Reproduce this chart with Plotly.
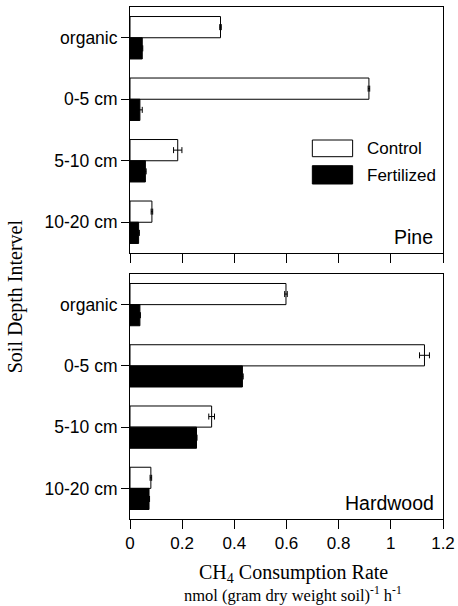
import plotly.graph_objects as go

depths = ["organic", "0-5 cm", "5-10 cm", "10-20 cm"]
pine_control = [0.347, 0.916, 0.183, 0.084]
pine_control_err = [0.003, 0.003, 0.016, 0.003]
pine_fert = [0.047, 0.038, 0.059, 0.033]
pine_fert_err = [0.002, 0.009, 0.003, 0.003]
hard_control = [0.598, 1.129, 0.313, 0.080]
hard_control_err = [0.005, 0.019, 0.011, 0.003]
hard_fert = [0.038, 0.431, 0.255, 0.073]
hard_fert_err = [0.002, 0.003, 0.002, 0.002]
x_ticks = [0, 0.2, 0.4, 0.6, 0.8, 1, 1.2]
x_tick_labels = ["0", "0.2", "0.4", "0.6", "0.8", "1", "1.2"]

W, H = 458, 606
# screen-pixel positions of the plot area
SL, SR, ST, SB = 129.5, 443.3, 7, 519
L, T = SL, ST
R = W - SR
B = H - SB
PW = SR - SL
PH = SB - ST


def px(x):
    return (x - SL) / PW


def py(y):
    return (SB - y) / PH


SANS = "Liberation Sans, Arial, sans-serif"
SERIF = "Liberation Serif, Times New Roman, serif"

fig = go.Figure()


def add_pair(ctrl, ctrl_err, fert, fert_err, xa, ya):
    fig.add_trace(go.Bar(
        y=depths, x=ctrl, orientation="h", name="Control",
        marker=dict(color="white", line=dict(color="black", width=1)),
        error_x=dict(type="data", array=ctrl_err, color="black", thickness=1, width=3),
        xaxis=xa, yaxis=ya, showlegend=False))
    fig.add_trace(go.Bar(
        y=depths, x=fert, orientation="h", name="Fertilized",
        marker=dict(color="black", line=dict(color="black", width=1)),
        error_x=dict(type="data", array=fert_err, color="black", thickness=1, width=3),
        xaxis=xa, yaxis=ya, showlegend=False))


add_pair(pine_control, pine_control_err, pine_fert, pine_fert_err, "x2", "y2")
add_pair(hard_control, hard_control_err, hard_fert, hard_fert_err, "x", "y")

top_dom = [1 - 246 / PH, 1]
bot_dom = [0, 245 / PH]

axis_common = dict(showline=True, linecolor="black", linewidth=1, mirror=True,
                   showgrid=False, zeroline=False, ticks="outside", ticklen=9,
                   tickcolor="black", tickwidth=1, automargin=False)

fig.update_layout(
    width=W, height=H,
    margin=dict(l=L, r=R, t=T, b=B, autoexpand=False),
    paper_bgcolor="white", plot_bgcolor="white",
    barmode="group", bargap=0.31, bargroupgap=0,
    font=dict(family=SANS, size=17, color="black"),
    xaxis=dict(range=[0, 1.2], tickvals=x_ticks, ticktext=x_tick_labels,
               anchor="y", domain=[0, 1], tickfont=dict(size=17), **axis_common),
    xaxis2=dict(range=[0, 1.2], tickvals=x_ticks, showticklabels=False,
                anchor="y2", domain=[0, 1], **axis_common),
    yaxis=dict(domain=bot_dom, autorange="reversed", anchor="x",
               tickfont=dict(size=17.5), **{**axis_common, "ticklen": 8}),
    yaxis2=dict(domain=top_dom, autorange="reversed", anchor="x2",
                tickfont=dict(size=17.5), **{**axis_common, "ticklen": 8}),
)

ann = []
ann.append(dict(text="Pine", x=px(435), y=py(237), xref="paper", yref="paper",
                xanchor="right", yanchor="middle", showarrow=False,
                font=dict(family=SANS, size=19.5)))
ann.append(dict(text="Hardwood", x=px(436.7), y=py(503), xref="paper", yref="paper",
                xanchor="right", yanchor="middle", showarrow=False,
                font=dict(family=SANS, size=19.5)))
ann.append(dict(text="Soil Depth Intervel", x=px(15), y=py(296.5), xref="paper",
                yref="paper", xanchor="center", yanchor="middle", showarrow=False,
                textangle=-90, font=dict(family=SERIF, size=20)))
ann.append(dict(text="CH<sub>4</sub> Consumption Rate", x=px(293.5), y=py(573),
                xref="paper", yref="paper", xanchor="center", yanchor="middle",
                showarrow=False, font=dict(family=SERIF, size=20)))
ann.append(dict(text="nmol (gram dry weight soil)<sup>-1</sup> h<sup>-1</sup>",
                x=px(293), y=py(594), xref="paper", yref="paper", xanchor="center",
                yanchor="middle", showarrow=False, font=dict(family=SERIF, size=16.5)))
ann.append(dict(text="Control", x=px(365), y=py(148), xref="paper", yref="paper",
                xanchor="left", yanchor="middle", showarrow=False,
                font=dict(family=SANS, size=17)))
ann.append(dict(text="Fertilized", x=px(365), y=py(175), xref="paper", yref="paper",
                xanchor="left", yanchor="middle", showarrow=False,
                font=dict(family=SANS, size=17)))

shapes = [
    dict(type="rect", xref="paper", yref="paper", x0=px(312.3), x1=px(352.7),
         y0=py(156.7), y1=py(140), fillcolor="white", line=dict(color="black", width=1)),
    dict(type="rect", xref="paper", yref="paper", x0=px(312.3), x1=px(352.7),
         y0=py(184), y1=py(165.7), fillcolor="black", line=dict(color="black", width=1)),
]
fig.update_layout(annotations=ann, shapes=shapes)

fig.write_html("out.html", config={"displayModeBar": False},
               post_script="document.body.style.margin='0px';document.body.style.overflow='hidden';")
